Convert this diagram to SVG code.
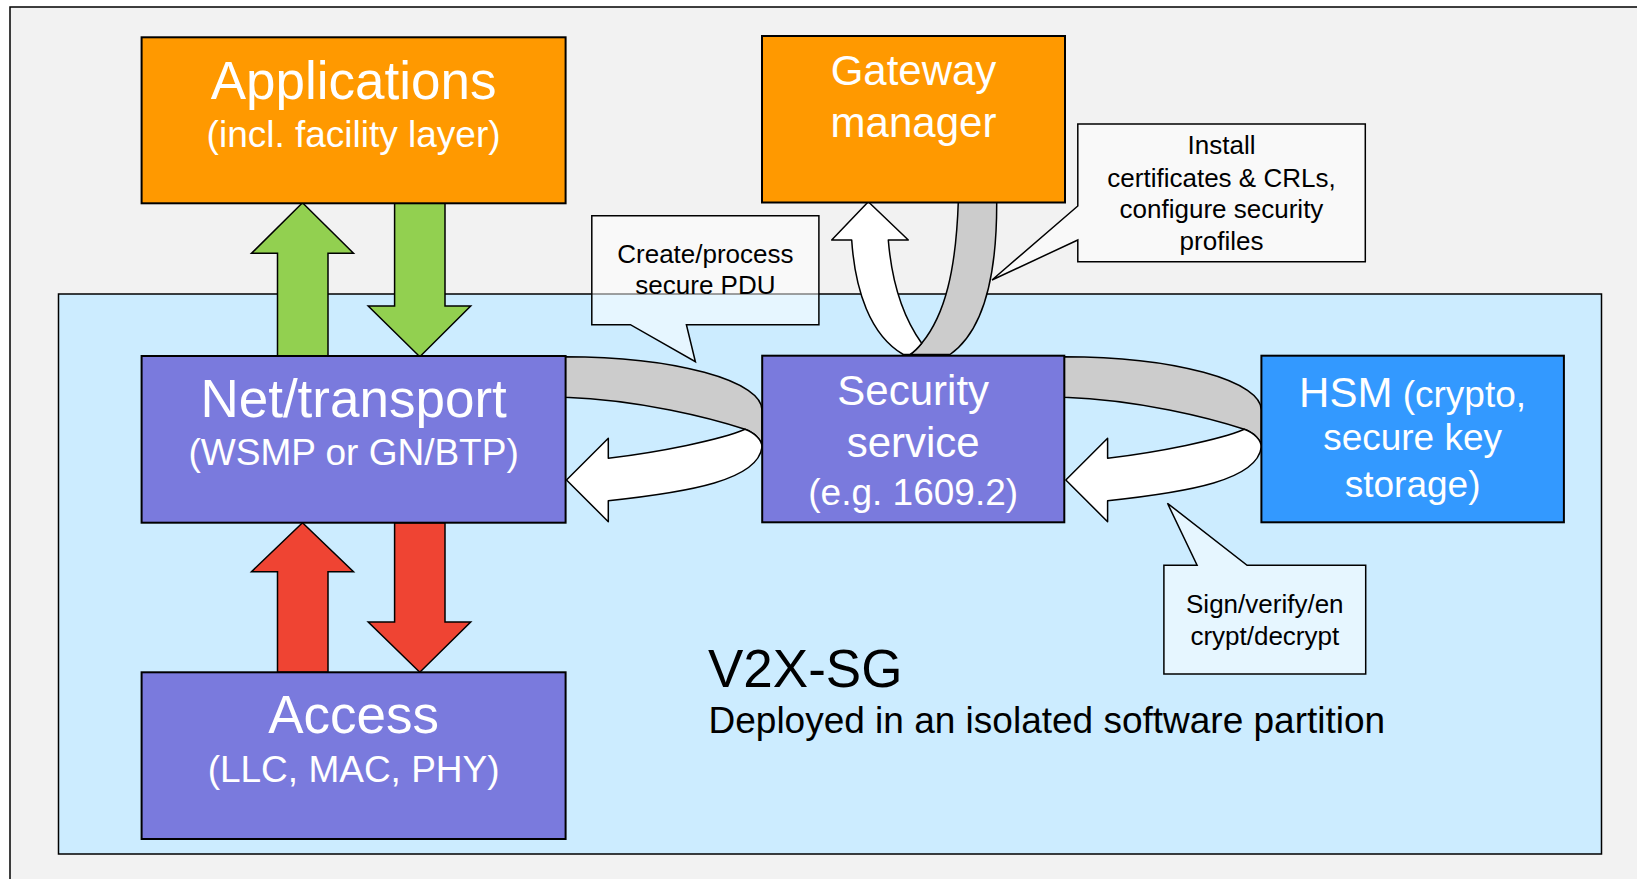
<svg xmlns="http://www.w3.org/2000/svg" width="1637" height="879" viewBox="0 0 1637 879">
  <style>
    .box { stroke: #000; stroke-width: 2; }
    .wt { font-family: "Liberation Sans", Arial, sans-serif; fill: #fff; text-anchor: middle; }
    .bt { font-family: "Liberation Sans", Arial, sans-serif; fill: #000; }
    .call { fill: #fff; fill-opacity: 0.5; stroke: #000; stroke-width: 1.5; }
    .ct { font-family: "Liberation Sans", Arial, sans-serif; fill: #000; font-size: 26px; text-anchor: middle; }
    .arr { stroke: #000; stroke-width: 1.5; stroke-linejoin: miter; }
    .rib { stroke: #000; stroke-width: 1.5; stroke-linejoin: round; }
  </style>
  <rect x="0" y="0" width="1637" height="879" fill="#fff"/>
  <rect id="frame" x="10" y="7" width="1700" height="900" fill="#f2f2f2" stroke="#000" stroke-width="1.5"/>
  <g id="v2x-sg">
    <rect x="58.5" y="294" width="1543" height="560" fill="#ccecff" stroke="#000" stroke-width="1.5"/>
    <text class="bt" x="708" y="687" font-size="53">V2X-SG</text>
    <text class="bt" x="708.5" y="733" font-size="37">Deployed in an isolated software partition</text>
  </g>

  <g id="connectors">
    <!-- green -->
    <polygon class="arr" fill="#92d050" points="277.5,356 277.5,253.3 251.5,253.3 302.5,202.7 353.5,253.3 328,253.3 328,356"/>
    <polygon class="arr" fill="#92d050" points="394.6,202.7 445,202.7 445,306 470.7,306 419.8,356.7 368.2,306 394.6,306"/>
    <!-- red -->
    <polygon class="arr" fill="#ef4433" points="277.5,672.3 277.5,571.7 251.5,571.7 302.5,522.7 353.5,571.7 328,571.7 328,672.3"/>
    <polygon class="arr" fill="#ef4433" points="394.6,522.7 445,522.7 445,622 470.7,622 419.8,672.3 368.2,622 394.6,622"/>
    <!-- ribbon security -> net -->
    <g id="ribbon-sec-net">
      <path class="rib" fill="#cccccc" d="M 565,356.7 A 197 53.3 0 0 1 762,410 L 762,447 C 762,440 755,433 745,429.3 C 710,418 640,400 565,397.3 Z"/>
      <path class="rib" fill="#ffffff" d="M 608.3,458.3 C 660,452 720,440 745,429.3 C 755,433 762,440 762,447 C 758,480 690,492 608.3,500.7 L 608.3,521.7 L 566.5,480 L 608.3,438.3 Z"/>
    </g>
    <!-- ribbon hsm -> security -->
    <g id="ribbon-hsm-sec" transform="translate(499.3,0)">
      <path class="rib" fill="#cccccc" d="M 565,356.7 A 197 53.3 0 0 1 762,410 L 762,447 C 762,440 755,433 745,429.3 C 710,418 640,400 565,397.3 Z"/>
      <path class="rib" fill="#ffffff" d="M 608.3,458.3 C 660,452 720,440 745,429.3 C 755,433 762,440 762,447 C 758,480 690,492 608.3,500.7 L 608.3,521.7 L 566.5,480 L 608.3,438.3 Z"/>
    </g>
    <!-- ribbon gateway <-> security -->
    <g id="ribbon-gw-sec">
      <path class="rib" fill="#cccccc" d="M 958.3,201.7 L 996.7,201.7 C 997,270 985,330 950,354.5 L 910,354.5 C 914,352 918,348 921.7,343.3 C 945,315 956,270 958.3,201.7 Z"/>
      <path class="rib" fill="#ffffff" d="M 851.7,240 C 855,290 870,335 903.3,354.5 L 910,354.5 C 914,352 918,348 921.7,343.3 C 905,320 892,285 888.3,240 L 908.3,240 L 868.3,201.7 L 831.7,240 Z"/>
    </g>
  </g>

  <g id="applications">
    <rect class="box" x="141.6" y="37.3" width="424" height="166" fill="#ff9900"/>
    <text class="wt" x="353.6" y="99.3" font-size="53">Applications</text>
    <text class="wt" x="353.6" y="146.7" font-size="37">(incl. facility layer)</text>
  </g>
  <g id="gateway-manager">
    <rect class="box" x="762" y="36" width="303" height="166.5" fill="#ff9900"/>
    <text class="wt" x="913.5" y="85" font-size="42">Gateway</text>
    <text class="wt" x="913.5" y="136.7" font-size="42">manager</text>
  </g>
  <g id="net-transport">
    <rect class="box" x="141.6" y="356" width="424" height="166.7" fill="#7a7add"/>
    <text class="wt" x="353.6" y="416.7" font-size="53">Net/transport</text>
    <text class="wt" x="353.6" y="465" font-size="37">(WSMP or GN/BTP)</text>
  </g>
  <g id="security-service">
    <rect class="box" x="762.2" y="355.7" width="302.1" height="166.6" fill="#7a7add"/>
    <text class="wt" x="913.2" y="405" font-size="42">Security</text>
    <text class="wt" x="913.2" y="456.7" font-size="42">service</text>
    <text class="wt" x="913.2" y="505" font-size="37">(e.g. 1609.2)</text>
  </g>
  <g id="hsm">
    <rect class="box" x="1261.4" y="355.7" width="302.5" height="166.6" fill="#3399ff"/>
    <text class="wt" x="1412.6" y="406.7" font-size="37"><tspan font-size="42">HSM</tspan> (crypto,</text>
    <text class="wt" x="1412.6" y="450" font-size="37">secure key</text>
    <text class="wt" x="1412.6" y="496.7" font-size="37">storage)</text>
  </g>
  <g id="access">
    <rect class="box" x="141.6" y="672.3" width="424" height="166.7" fill="#7a7add"/>
    <text class="wt" x="353.6" y="733.3" font-size="53">Access</text>
    <text class="wt" x="353.6" y="781.7" font-size="37">(LLC, MAC, PHY)</text>
  </g>

  <g id="callout-create">
    <path class="call" d="M 591.8,215.7 L 818.9,215.7 L 818.9,324.7 L 686.4,324.7 L 695.4,361.7 L 630.4,324.7 L 591.8,324.7 Z"/>
    <text class="ct" x="705.4" y="263.3">Create/process</text>
    <text class="ct" x="705.4" y="294.3">secure PDU</text>
  </g>
  <g id="callout-install">
    <path class="call" d="M 1077.8,124 L 1365.3,124 L 1365.3,261.7 L 1077.8,261.7 L 1077.8,240 L 992,280 L 1077.8,206 Z"/>
    <text class="ct" x="1221.5" y="154.3">Install</text>
    <text class="ct" x="1221.5" y="186.7">certificates &amp; CRLs,</text>
    <text class="ct" x="1221.5" y="218.3">configure security</text>
    <text class="ct" x="1221.5" y="250">profiles</text>
  </g>
  <g id="callout-sign">
    <path class="call" d="M 1163.9,565.3 L 1197.1,565.3 L 1167.5,503.3 L 1247.1,565.3 L 1365.7,565.3 L 1365.7,674 L 1163.9,674 Z"/>
    <text class="ct" x="1264.8" y="613.3">Sign/verify/en</text>
    <text class="ct" x="1264.8" y="645">crypt/decrypt</text>
  </g>
</svg>
